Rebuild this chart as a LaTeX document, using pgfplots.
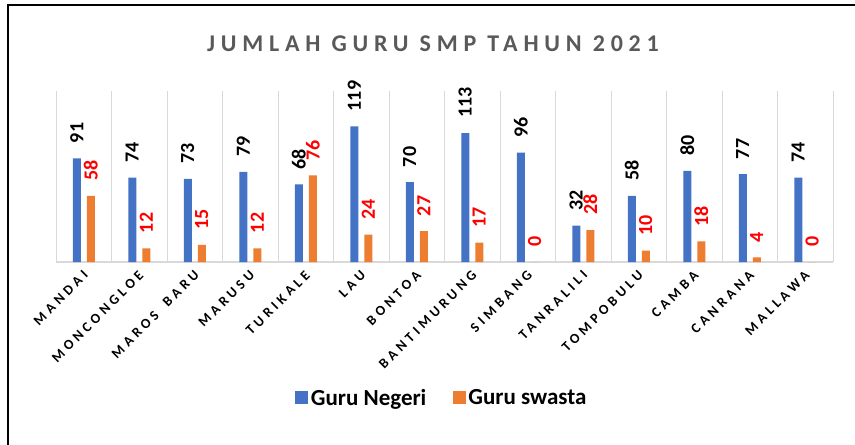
\documentclass[border=0pt]{standalone}
\usepackage{fontspec}
\setmainfont{Carlito}
\newfontfamily\titlefont[LetterSpace=24]{Carlito}
\newfontfamily\catfont[LetterSpace=28]{Carlito}
\usepackage{pgfplots}
\pgfplotsset{compat=1.18}
\definecolor{cblue}{HTML}{4472C4}
\definecolor{corange}{HTML}{ED7D31}
\definecolor{cgrid}{HTML}{D9D9D9}
\definecolor{ctitle}{HTML}{595959}
\begin{document}
\begin{tikzpicture}
\path[use as bounding box] (-56bp,-183bp) rectangle (799bp,262bp);
\draw[line width=2bp] (-48bp,-184bp) -- (-48bp,257bp) -- (800bp,257bp);
\begin{axis}[
 at={(0,0)}, anchor=south west,
 scale only axis, width=777bp, height=171bp,
 xmin=-0.5, xmax=13.5, ymin=0, ymax=150,
 axis x line=bottom, axis y line=none,
 x axis line style={cgrid, line width=1.5bp, -},
 xtick={0,...,13},
 xticklabels={MANDAI,MONCONGLOE,{MAROS\hspace{5bp} BARU},MARUSU,TURIKALE,LAU,BONTOA,BANTIMURUNG,SIMBANG,TANRALILI,TOMPOBULU,CAMBA,CANRANA,MALLAWA},
 major tick length=0,
 minor xtick={-0.5,0.5,...,13.5},
 minor tick length=0,
 xminorgrids, minor grid style={cgrid, line width=1bp},
 xticklabel style={font=\catfont\bfseries\fontsize{14bp}{16bp}\selectfont, yshift=-11bp, xshift=2bp, rotate=45, anchor=east, inner sep=0pt},
 /pgf/number format/assume math mode=true,
 ybar, bar width=8bp,
 legend image code/.code={\draw[#1, draw=none] (0bp,-6.5bp) rectangle (13bp,6.5bp);},
 legend style={at={(0.497,-0.795)}, anchor=center, legend columns=2, draw=none, fill=none,
   font=\bfseries\fontsize{23bp}{26bp}\selectfont,
   nodes={inner xsep=2.5bp},
   /tikz/every even column/.append style={column sep=24bp}},
]
\addplot[fill=cblue, draw=none, bar shift=-7bp, nodes near coords,
  every node near coord/.append style={text=black, font=\bfseries\fontsize{20bp}{22bp}\selectfont, rotate=90, anchor=west, inner xsep=15bp}]
 coordinates {(0,91) (1,74) (2,73) (3,79) (4,68) (5,119) (6,70) (7,113) (8,96) (9,32) (10,58) (11,80) (12,77) (13,74)};
\addlegendentry{Guru Negeri}
\addplot[fill=corange, draw=none, bar shift=7bp, nodes near coords,
  every node near coord/.append style={text=red, font=\bfseries\fontsize{20bp}{22bp}\selectfont, rotate=90, anchor=west, inner xsep=15bp}]
 coordinates {(0,58) (1,12) (2,15) (3,12) (4,76) (5,24) (6,27) (7,17) (8,0) (9,28) (10,10) (11,18) (12,4) (13,0)};
\addlegendentry{Guru swasta}
\end{axis}
\node[anchor=base, font=\titlefont\bfseries\fontsize{24bp}{28bp}\selectfont, text=ctitle] at (377bp,210bp) {JUMLAH GURU SMP TAHUN 2021};
\end{tikzpicture}
\end{document}
